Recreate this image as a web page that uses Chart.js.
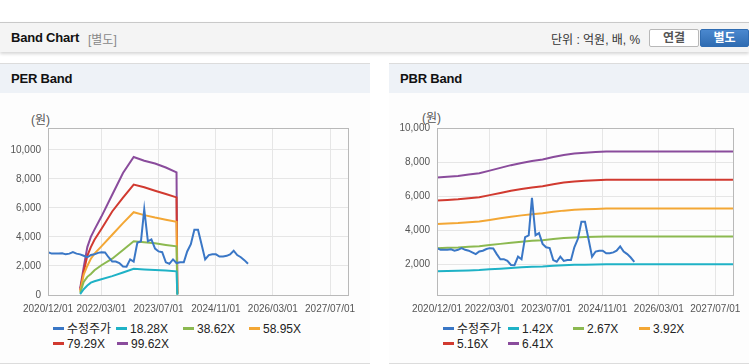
<!DOCTYPE html>
<html>
<head>
<meta charset="utf-8">
<script src="https://cdn.jsdelivr.net/npm/chart.js@4.4.1/dist/chart.umd.min.js"></script>
<style>
  body { margin: 0; width: 749px; height: 364px; overflow: hidden; background: #fff; position: relative;
         font-family: 'Liberation Sans', Arial, 'Noto Sans CJK KR', sans-serif; }
  .topbar { position: absolute; left: 0; top: 22px; width: 749px; height: 29px; background: #f4f4f4;
            border-top: 1px solid #c9c9c9; box-shadow: 0 2px 3px rgba(0,0,0,0.16); }
  .topbar .title { position: absolute; left: 11px; top: 7px; font-size: 13px; font-weight: bold; color: #111; letter-spacing: -0.2px; }
  .topbar .sub { position: absolute; left: 88px; top: 7px; font-size: 12px; color: #888; }
  .topbar .unit { position: absolute; left: 551px; top: 7px; font-size: 12px; color: #333; }
  .btn { position: absolute; top: 6px; height: 18px; box-sizing: border-box; font-size: 12px; font-weight: bold;
         text-align: center; line-height: 16px; border-radius: 2px; }
  .btn.off { left: 649px; width: 50px; background: #fff; border: 1px solid #b8b8b8; color: #555; }
  .btn.on { left: 700px; width: 49px; background: linear-gradient(#4a88cf, #2f6cb2); border: 1px solid #2f6cb2; color: #fff; }
  .panel { position: absolute; top: 63px; height: 299px; background: #fdfdfd;
           border-top: 1px solid #dcdcdc; border-bottom: 1px solid #dcdcdc; }
  .panel .head { height: 29px; line-height: 30px; background: #eef2f7; padding-left: 11px;
                 font-size: 13px; font-weight: bold; color: #111; letter-spacing: -0.2px; }
  .unitlabel { position: absolute; font-size: 12px; color: #555; }
  canvas { position: absolute; }
  .legend { position: absolute; font-size: 12px; color: #222; }
  .legend .item { position: absolute; white-space: nowrap; height: 14px; line-height: 14px; }
  .legend .mark { display: inline-block; width: 11px; height: 3px; vertical-align: middle; margin-right: 3px; margin-top: -2px; }
</style>
</head>
<body>
<div class="topbar">
  <span class="title">Band Chart</span><span class="sub">[별도]</span>
  <span class="unit">단위 : 억원, 배, %</span>
  <div class="btn off">연결</div>
  <div class="btn on">별도</div>
</div>

<div class="panel" style="left:0; width:370px;"><div class="head">PER Band</div></div>
<div class="panel" style="left:389px; width:360px;"><div class="head">PBR Band</div></div>

<span class="unitlabel" style="left:31px; top:110px;">(원)</span>
<span class="unitlabel" style="left:422px; top:108px;">(원)</span>

<canvas id="per-chart" width="370" height="225" style="left:0; top:95px;"></canvas>
<canvas id="pbr-chart" width="360" height="225" style="left:389px; top:95px;"></canvas>

<div class="legend" id="per-legend" style="left:53px; top:322px;"></div>
<div class="legend" id="pbr-legend" style="left:443px; top:322px;"></div>

<script>
// 축 범위 / 눈금
const xStart = '2020/12/01';
const xEnd = '2027/12/01';
const xTickLabels = ['2020/12/01', '2022/03/01', '2023/07/01', '2024/11/01', '2026/03/01', '2027/07/01'];
const perYTicks = [0, 2000, 4000, 6000, 8000, 10000];
const pbrYTicks = [2000, 4000, 6000, 8000, 10000];

// 수정주가 (월별)
const priceDates = [
    '2020/12/01', '2021/01/01', '2021/02/01', '2021/03/01', '2021/04/01', '2021/05/01', '2021/06/01',
    '2021/07/01', '2021/08/01', '2021/09/01', '2021/10/01', '2021/11/01', '2021/12/01',
    '2022/01/01', '2022/02/01', '2022/03/01', '2022/04/01', '2022/05/01', '2022/06/01',
    '2022/07/01', '2022/08/01', '2022/09/01', '2022/10/01', '2022/11/01', '2022/12/01',
    '2023/01/01', '2023/02/01', '2023/03/01', '2023/04/01', '2023/05/01', '2023/06/01',
    '2023/07/01', '2023/08/01', '2023/09/01', '2023/10/01', '2023/11/01', '2023/12/01',
    '2024/01/01', '2024/02/01', '2024/03/01', '2024/04/01', '2024/05/01', '2024/06/01',
    '2024/07/01', '2024/08/01', '2024/09/01', '2024/10/01', '2024/11/01', '2024/12/01',
    '2025/01/01', '2025/02/01', '2025/03/01', '2025/04/01', '2025/05/01', '2025/06/01',
    '2025/07/01', '2025/08/01'
];
const priceValues = [
    2950, 2850, 2850, 2850, 2880, 2800, 2850,
    2950, 2850, 2800, 2700, 2600, 2750,
    2800, 2900, 2950, 2930, 2600, 2300,
    2300, 2200, 1960, 1950, 2450, 2300,
    3600, 3700, 5900, 3700, 3830, 3200,
    3000, 2950, 2250, 2150, 2450, 2200,
    2250, 2250, 3000, 3500, 4500, 4500,
    3500, 2450, 2750, 2800, 2800, 2650,
    2650, 2700, 2800, 3050, 2750, 2600,
    2400, 2150
];

// PER 밴드
const perLabels = ['18.28X', '38.62X', '58.95X', '79.29X', '99.62X'];
const perDates = ['2021/09/01', '2021/10/01', '2021/11/01', '2021/12/01', '2022/01/01', '2022/03/01', '2022/06/01',
                  '2022/09/01', '2022/12/01', '2023/03/01', '2023/06/01', '2023/09/01', '2023/12/01', '2023/12/08'];
const per1828 = [60, 400, 650, 850, 950, 1080, 1300, 1550, 1800, 1760, 1720, 1680, 1630, 20];
const per3862 = [150, 900, 1250, 1450, 1700, 2050, 2500, 3100, 3700, 3640, 3560, 3450, 3350, 40];
const per5895 = [250, 1400, 2000, 2500, 2850, 3350, 4150, 4950, 5700, 5500, 5330, 5180, 5040, 60];
const per7929 = [350, 1600, 2700, 3300, 3800, 4550, 5750, 6700, 7600, 7420, 7180, 6950, 6720, 80];
const per9962 = [450, 1900, 3300, 4000, 4500, 5400, 6900, 8400, 9500, 9250, 9050, 8780, 8450, 100];

// PBR 밴드
const pbrLabels = ['1.42X', '2.67X', '3.92X', '5.16X', '6.41X'];
const pbrDates = ['2020/12/01', '2021/03/01', '2021/06/01', '2021/09/01', '2021/12/01', '2022/03/01',
                  '2022/06/01', '2022/09/01', '2022/12/01', '2023/03/01', '2023/06/01', '2023/09/01',
                  '2023/12/01', '2024/03/01', '2024/06/01', '2024/09/01', '2024/12/01', '2027/12/01'];
const pbr142 = [1600, 1610, 1624, 1645, 1666, 1705, 1747, 1790, 1824, 1853, 1876, 1916, 1947, 1968, 1982, 1992, 2000, 2000];
const pbr267 = [2950, 2968, 2990, 3026, 3062, 3129, 3200, 3272, 3330, 3380, 3420, 3487, 3540, 3576, 3599, 3616, 3630, 3630];
const pbr392 = [4370, 4393, 4423, 4471, 4518, 4607, 4701, 4797, 4873, 4939, 4992, 5080, 5151, 5199, 5229, 5252, 5270, 5270];
const pbr516 = [5740, 5772, 5812, 5877, 5940, 6061, 6189, 6318, 6422, 6511, 6583, 6703, 6799, 6864, 6904, 6936, 6960, 6960];
const pbr641 = [7100, 7140, 7190, 7270, 7350, 7500, 7660, 7820, 7950, 8060, 8150, 8300, 8420, 8500, 8550, 8590, 8620, 8620];

const priceLabel = '수정주가';
const colors = ['#3a77c6', '#1fb2c6', '#8cb950', '#f3a735', '#d13a30', '#8a4c9c'];

function toDay(s) {
    const p = s.split('/').map(Number);
    const b = xStart.split('/').map(Number);
    return (Date.UTC(p[0], p[1] - 1, p[2]) - Date.UTC(b[0], b[1] - 1, b[2])) / 86400000;
}

function points(dates, values) {
    return dates.map((d, i) => ({ x: toDay(d), y: values[i] }));
}

function makeDatasets(bandLabels, bandDates, bands) {
    const sets = [{ label: priceLabel, data: points(priceDates, priceValues) }];
    bands.forEach((vals, i) => sets.push({ label: bandLabels[i], data: points(bandDates, vals) }));
    return sets.map((ds, i) => Object.assign(ds, {
        borderColor: colors[i],
        backgroundColor: colors[i],
        borderWidth: 2,
        pointRadius: 0,
        tension: 0
    }));
}

const frame = {
    id: 'frame',
    afterDraw(chart) {
        const a = chart.chartArea;
        const ctx = chart.ctx;
        ctx.save();
        ctx.strokeStyle = '#b9b9b9';
        ctx.lineWidth = 1;
        ctx.strokeRect(Math.round(a.left) + 0.5, Math.round(a.top) + 0.5,
                       Math.round(a.right - a.left), Math.round(a.bottom - a.top));
        ctx.restore();
    }
};

function makeOptions(yMin, yMax, yTicks, rightPad) {
    const tickFont = { family: "'Liberation Sans', Arial", size: 10 };
    return {
        responsive: false,
        animation: false,
        layout: { padding: { top: 33, right: rightPad, left: 0, bottom: 0 } },
        plugins: { legend: { display: false }, tooltip: { enabled: false } },
        scales: {
            x: {
                type: 'linear',
                min: 0,
                max: toDay(xEnd),
                afterBuildTicks: s => { s.ticks = xTickLabels.map(t => ({ value: toDay(t) })); },
                afterFit: s => { s.height = 25; },
                grid: { color: '#e6e6e6', drawTicks: false },
                border: { display: false },
                ticks: {
                    color: '#555',
                    font: tickFont,
                    padding: 8,
                    maxRotation: 0,
                    autoSkip: false,
                    callback: v => xTickLabels.find(t => toDay(t) === v) || ''
                }
            },
            y: {
                min: yMin,
                max: yMax,
                afterBuildTicks: s => { s.ticks = yTicks.map(v => ({ value: v })); },
                afterFit: s => { s.width = 48; },
                grid: { color: '#e6e6e6', drawTicks: false },
                border: { display: false },
                ticks: {
                    color: '#555',
                    font: tickFont,
                    padding: 7,
                    callback: v => v.toLocaleString('en-US')
                }
            }
        }
    };
}

const perChart = new Chart(document.getElementById('per-chart'), {
    type: 'line',
    data: { datasets: makeDatasets(perLabels, perDates, [per1828, per3862, per5895, per7929, per9962]) },
    options: makeOptions(0, 11500, perYTicks, 22),
    plugins: [frame]
});

const pbrChart = new Chart(document.getElementById('pbr-chart'), {
    type: 'line',
    data: { datasets: makeDatasets(pbrLabels, pbrDates, [pbr142, pbr267, pbr392, pbr516, pbr641]) },
    options: makeOptions(200, 10000, pbrYTicks, 12),
    plugins: [frame]
});

// 범례 (두 줄, 고정 위치)
function buildLegend(el, chart, offsets) {
    chart.data.datasets.forEach((ds, i) => {
        const item = document.createElement('div');
        item.className = 'item';
        item.style.left = offsets[i] + 'px';
        item.style.top = (i < 4 ? 0 : 15) + 'px';
        item.innerHTML = '<span class="mark" style="background:' + ds.borderColor + '"></span>' + ds.label;
        el.appendChild(item);
    });
}

buildLegend(document.getElementById('per-legend'), perChart, [0, 63, 130, 196, 0, 64]);
buildLegend(document.getElementById('pbr-legend'), pbrChart, [0, 65, 130, 196, 0, 65]);
</script>
</body>
</html>
